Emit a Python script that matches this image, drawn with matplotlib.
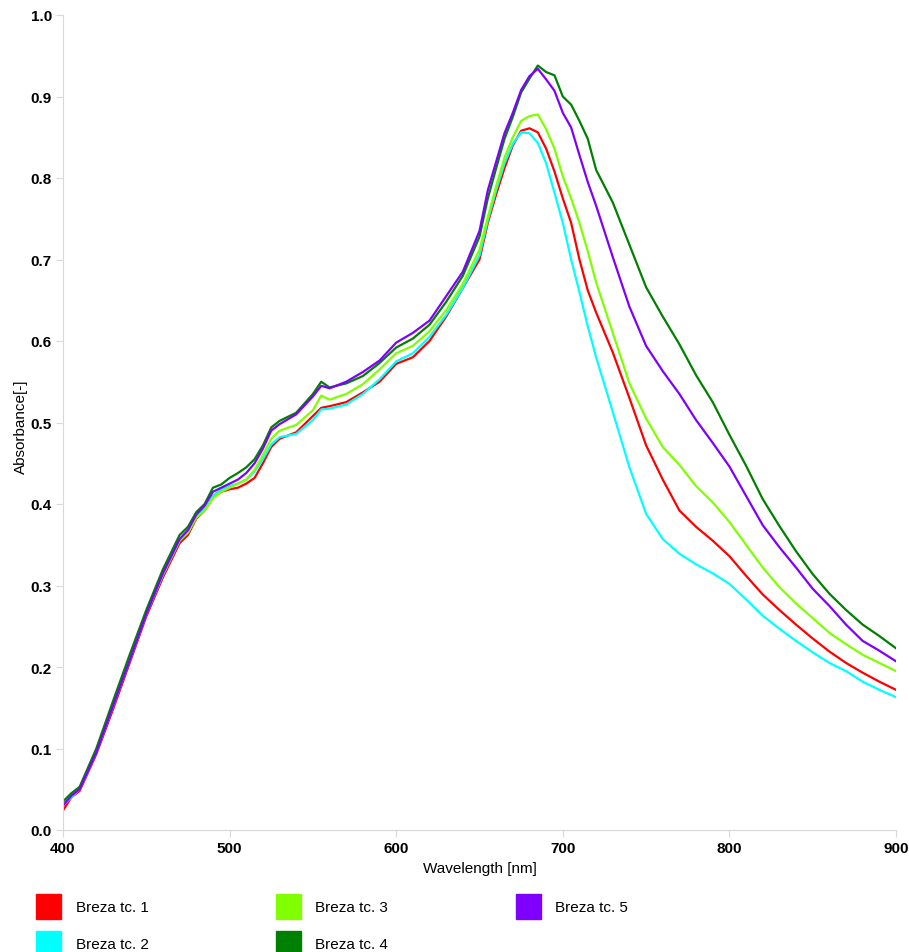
import matplotlib
matplotlib.use("Agg")
import matplotlib.pyplot as plt
from matplotlib.patches import Patch

plt.rcParams['font.family'] = ['Liberation Sans', 'DejaVu Sans']

# wavelengths [nm]
wl = [400, 405, 410, 420, 430, 440, 450, 460, 470, 475, 480, 485, 490, 495,
      500, 505, 510, 515, 520, 525, 530, 540, 550, 555, 560, 570, 580, 590,
      600, 610, 620, 630, 640, 650, 655, 660, 665, 670, 675, 680, 685, 690,
      695, 700, 705, 710, 715, 720, 730, 740, 750, 760, 770, 780, 790, 800,
      810, 820, 830, 840, 850, 860, 870, 880, 890, 900]

breza1 = [0.024, 0.040, 0.048, 0.093, 0.148, 0.205, 0.262, 0.310, 0.352, 0.362,
          0.382, 0.392, 0.408, 0.415, 0.418, 0.420, 0.425, 0.432, 0.450, 0.470,
          0.480, 0.488, 0.508, 0.518, 0.520, 0.525, 0.537, 0.550, 0.572, 0.580,
          0.600, 0.630, 0.665, 0.700, 0.745, 0.780, 0.812, 0.840, 0.858, 0.861,
          0.856, 0.836, 0.808, 0.775, 0.745, 0.700, 0.662, 0.635, 0.586, 0.530,
          0.472, 0.430, 0.392, 0.372, 0.355, 0.336, 0.312, 0.289, 0.270, 0.252,
          0.235, 0.219, 0.205, 0.193, 0.182, 0.172]

breza2 = [0.030, 0.040, 0.050, 0.095, 0.152, 0.208, 0.265, 0.313, 0.355, 0.365,
          0.384, 0.395, 0.410, 0.418, 0.422, 0.425, 0.430, 0.440, 0.455, 0.473,
          0.482, 0.486, 0.503, 0.516, 0.517, 0.522, 0.535, 0.553, 0.575, 0.585,
          0.605, 0.632, 0.665, 0.705, 0.748, 0.785, 0.818, 0.842, 0.856, 0.855,
          0.843, 0.818, 0.782, 0.745, 0.700, 0.660, 0.618, 0.580, 0.513, 0.445,
          0.388, 0.357, 0.339, 0.326, 0.315, 0.302, 0.283, 0.263, 0.247, 0.232,
          0.218, 0.205, 0.195, 0.182, 0.172, 0.163]

breza3 = [0.033, 0.045, 0.052, 0.097, 0.153, 0.210, 0.266, 0.314, 0.356, 0.365,
          0.383, 0.392, 0.407, 0.415, 0.420, 0.425, 0.430, 0.442, 0.460, 0.480,
          0.490, 0.497, 0.515, 0.533, 0.528, 0.535, 0.547, 0.565, 0.585, 0.594,
          0.612, 0.638, 0.670, 0.712, 0.752, 0.790, 0.825, 0.850, 0.870, 0.876,
          0.878, 0.860, 0.836, 0.802, 0.775, 0.745, 0.710, 0.672, 0.610, 0.548,
          0.505, 0.470, 0.448, 0.422, 0.402, 0.378, 0.350, 0.322, 0.298, 0.278,
          0.260, 0.242, 0.228, 0.215, 0.205, 0.195]

breza4 = [0.035, 0.045, 0.053, 0.100, 0.158, 0.215, 0.270, 0.320, 0.362, 0.372,
          0.390, 0.400, 0.420, 0.424, 0.432, 0.438, 0.445, 0.455, 0.472, 0.494,
          0.502, 0.512, 0.535, 0.550, 0.543, 0.548, 0.557, 0.573, 0.592, 0.603,
          0.620, 0.648, 0.680, 0.728, 0.775, 0.812, 0.848, 0.875, 0.905, 0.922,
          0.938, 0.930, 0.926, 0.900, 0.890, 0.870, 0.848, 0.810, 0.770, 0.718,
          0.666, 0.630, 0.596, 0.558, 0.525, 0.485, 0.447, 0.406, 0.373, 0.342,
          0.314, 0.290, 0.270, 0.252, 0.238, 0.223]

breza5 = [0.030, 0.042, 0.050, 0.095, 0.152, 0.208, 0.265, 0.315, 0.357, 0.368,
          0.387, 0.398, 0.415, 0.420, 0.425, 0.430, 0.438, 0.450, 0.468, 0.490,
          0.498, 0.510, 0.532, 0.545, 0.542, 0.550, 0.562, 0.576, 0.598, 0.610,
          0.625, 0.655, 0.685, 0.735, 0.785, 0.820, 0.855, 0.880, 0.908, 0.925,
          0.934, 0.921, 0.907, 0.880, 0.862, 0.828, 0.795, 0.766, 0.703, 0.642,
          0.594, 0.563, 0.535, 0.503, 0.475, 0.446, 0.410, 0.374, 0.347, 0.322,
          0.296, 0.275, 0.252, 0.232, 0.220, 0.207]

series = [breza1, breza2, breza3, breza4, breza5]
labels = ["Breza tc. 1", "Breza tc. 2", "Breza tc. 3", "Breza tc. 4", "Breza tc. 5"]
colors = ["#ff0000", "#00ffff", "#80ff00", "#008000", "#8000ff"]

fig = plt.figure(figsize=(9.09, 9.53), dpi=100)
ax = fig.add_axes([63 / 909, 1 - 831 / 953, (896 - 63) / 909, (831 - 16) / 953])

for y, c in zip(series, colors):
    ax.plot(wl, y, color=c, lw=1.6)

ax.set_xlim(400, 900)
ax.set_ylim(0, 1.0)
ax.set_xticks([400, 500, 600, 700, 800, 900])
ax.set_yticks([i / 10 for i in range(11)])
ax.set_yticklabels([f"{i / 10:.1f}" for i in range(11)])

for s in ["top", "right"]:
    ax.spines[s].set_visible(False)
for s in ["left", "bottom"]:
    ax.spines[s].set_color("#d9d9d9")
ax.tick_params(length=5, color="#d9d9d9", labelsize=11, pad=3)
for t in ax.get_xticklabels() + ax.get_yticklabels():
    t.set_fontweight("bold")

ax.set_xlabel("Wavelength [nm]", fontsize=11, labelpad=4)
ax.set_ylabel("Absorbance[-]", fontsize=11)
ax.yaxis.set_label_coords(-0.042, 0.496)

handles = [Patch(facecolor=c, edgecolor=c) for c in colors]
fig.legend(handles, labels, ncol=3, frameon=False, loc="upper left",
           bbox_to_anchor=(36 / 909, 1 - 895 / 953), borderpad=0,
           borderaxespad=0, fontsize=11, handlelength=1.64, handleheight=2.14,
           handletextpad=0.95, columnspacing=8.34, labelspacing=0.78)

fig.savefig("out.png", dpi=100)
